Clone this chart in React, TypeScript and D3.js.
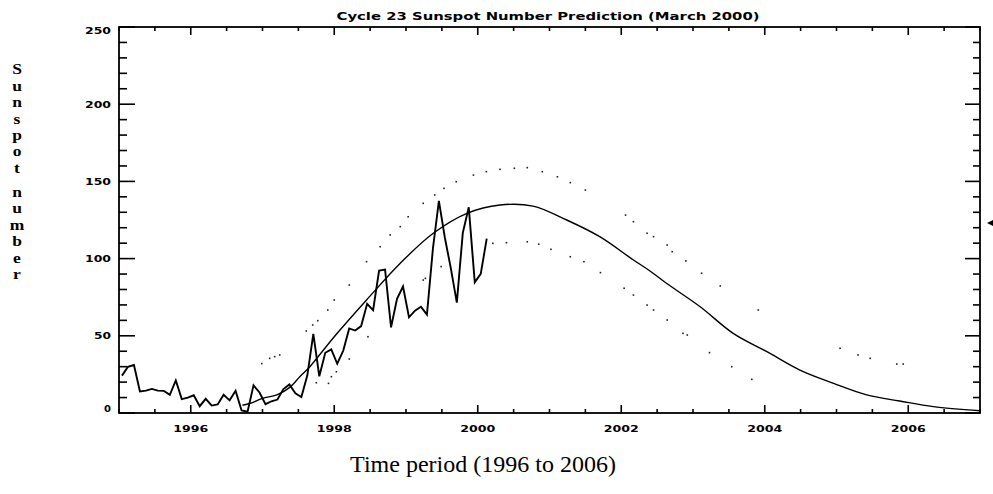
import React from 'react';
import * as d3 from 'd3';

const W = 993;
const H = 494;

// Observed monthly sunspot numbers, Jan 1995 .. Feb 2000
const observedStartYear = 1995;
const observedMonthly = [
  24.2, 29.9, 31.1, 14.0, 14.5, 15.6, 14.5, 14.3, 11.8, 21.1, 9.0, 10.0,
  11.5, 4.4, 9.2, 4.8, 5.5, 11.8, 8.2, 14.4, 1.6, 0.9, 17.9, 13.3,
  5.7, 7.6, 8.7, 15.5, 18.5, 12.7, 10.4, 24.4, 51.3, 23.8, 39.0, 41.2,
  31.9, 40.3, 54.8, 53.4, 56.3, 70.7, 66.6, 92.2, 92.9, 55.5, 74.0, 81.9,
  62.0, 66.3, 68.8, 63.7, 106.4, 137.4, 113.5, 93.7, 71.5, 116.7, 133.2, 84.6,
  90.1, 112.9,
];

// Predicted smooth curve
const predYears = [1996.72, 1996.83, 1997.0, 1997.2, 1997.38, 1997.52, 1997.66, 1998.0, 1998.45, 1998.92, 1999.38, 1999.85, 2000.31, 2000.77, 2001.24, 2001.7, 2002.17, 2002.4, 2002.63, 2003.1, 2003.56, 2004.03, 2004.49, 2004.96, 2005.42, 2005.88, 2006.35, 2007.0];
const predValues = [5, 6.3, 9.5, 11.7, 16.6, 23.5, 30, 49.4, 73.2, 97, 116.4, 129.3, 134.7, 134, 125, 114.2, 99.1, 92, 84, 68.8, 51.6, 39.7, 27.8, 19.2, 11.7, 7.8, 4.1, 1.5];

// Upper bound (dotted)
const upperYears = [1996.99, 1997.1, 1997.17, 1997.24, 1997.61, 1997.7, 1997.77, 1997.91, 1998.0, 1998.21, 1998.45, 1998.64, 1998.78, 1998.92, 1999.03, 1999.24, 1999.4, 1999.53, 1999.7, 1999.94, 2000.12, 2000.31, 2000.51, 2000.69, 2000.9, 2001.11, 2001.29, 2001.5, 2002.06, 2002.17, 2002.36, 2002.45, 2002.64, 2002.71, 2002.9, 2003.12, 2003.38, 2003.91, 2005.05, 2005.3, 2005.47, 2005.84, 2005.93];
const upperValues = [32, 35.4, 36.5, 37.6, 53.1, 57, 59.8, 66.7, 73.2, 82.9, 98, 107.7, 115.3, 120.7, 127.1, 135.8, 141.2, 145.5, 149.8, 154.1, 156.3, 157.8, 158.5, 158.9, 156.3, 153, 149.2, 144.4, 128.2, 123.9, 116.4, 114.2, 108.8, 104.5, 98.5, 90.5, 82.3, 66.7, 41.9, 37.6, 35.4, 31.7, 31.7];

// Lower bound (dotted)
const lowerYears = [1997.75, 1997.92, 1997.96, 1998.03, 1998.21, 1998.47, 1999.24, 1999.27, 1999.49, 2000.21, 2000.4, 2000.69, 2000.85, 2001.02, 2001.29, 2001.48, 2001.71, 2002.04, 2002.17, 2002.36, 2002.45, 2002.64, 2002.86, 2002.92, 2003.23, 2003.54, 2003.82];
const lowerValues = [19.6, 19.2, 23.5, 26.7, 35, 49.4, 86.1, 87.2, 94.8, 109.9, 110.3, 110.9, 109.3, 106, 101.2, 98, 90.9, 80.8, 76.4, 69.9, 66.7, 60.2, 51.6, 50.5, 39.1, 30, 21.8];

const xTickYears = [1996, 1998, 2000, 2002, 2004, 2006];
const yTickValues = [0, 50, 100, 150, 200, 250];
const titleText = 'Cycle 23 Sunspot Number Prediction (March 2000)';
const xTitle = 'Time period (1996 to 2006)';
const yTitleWords = ['Sunspot', 'number'];

const PL = 119, PR = 980, PT = 27, PB = 413;

export default function App() {
  const x = d3.scaleLinear().domain([1995, 2007]).range([PL, PR]);
  const y = d3.scaleLinear().domain([0, 250]).range([PB, PT]);

  const obsPts: [number, number][] = observedMonthly.map((v, i) => [observedStartYear + (i + 0.5) / 12, v]);
  const predPts: [number, number][] = predYears.map((t, i) => [t, predValues[i]]);

  const lineLin = d3.line<[number, number]>().x(d => x(d[0])).y(d => y(d[1]));
  const lineSmooth = d3.line<[number, number]>().x(d => x(d[0])).y(d => y(d[1])).curve(d3.curveCatmullRom.alpha(0.5));

  const xMinor = d3.range(1995, 2007.001, 0.5);
  const yMinor = d3.range(0, 250.001, 10);

  const tickFont = "'DejaVu Sans', Verdana, sans-serif";

  // y title: each letter its own text, stacked without overlapping boxes
  const fs = 14;
  const pitch = 16.4;
  const gap = 7.8;
  const top0 = 62;
  const letters: { ch: string; yb: number }[] = [];
  let k = 0;
  yTitleWords.forEach((w, wi) => {
    w.split('').forEach(ch => {
      const top = top0 + k * pitch + (wi > 0 ? gap : 0);
      letters.push({ ch, yb: top + fs * 0.89 });
      k++;
    });
  });

  return (
    <svg width={W} height={H} style={{ position: 'absolute', left: 0, top: 0, background: '#fff' }}>
      <rect x={0} y={0} width={W} height={H} fill="#fff" />
      {/* title */}
      <text x={548} y={19.5} textAnchor="middle" fontFamily={tickFont} fontWeight="bold" fontSize={10.5}
        textLength={423} lengthAdjust="spacingAndGlyphs">{titleText}</text>

      {/* frame */}
      <rect x={PL} y={PT} width={PR - PL} height={PB - PT} fill="none" stroke="#000" strokeWidth={1.8} />

      {/* x ticks */}
      {xMinor.map(t => {
        const major = Math.abs(t % 2) < 1e-6;
        const len = major ? 8 : 4;
        return (
          <g key={'xt' + t}>
            <line x1={x(t)} x2={x(t)} y1={PB} y2={PB - len} stroke="#000" strokeWidth={1.6} />
            <line x1={x(t)} x2={x(t)} y1={PT} y2={PT + len} stroke="#000" strokeWidth={1.6} />
          </g>
        );
      })}
      {/* y ticks */}
      {yMinor.map(v => {
        const major = v % 50 === 0;
        const lenL = major ? 16 : 8;
        const lenR = major ? 15 : 7;
        return (
          <g key={'yt' + v}>
            <line x1={PL} x2={PL + lenL} y1={y(v)} y2={y(v)} stroke="#000" strokeWidth={1.6} />
            <line x1={PR} x2={PR - lenR} y1={y(v)} y2={y(v)} stroke="#000" strokeWidth={1.6} />
          </g>
        );
      })}

      {/* x tick labels */}
      {xTickYears.map(t => (
        <text key={'xl' + t} x={x(t)} y={432} textAnchor="middle" fontFamily={tickFont} fontWeight="bold" fontSize={9}
          textLength={35} lengthAdjust="spacingAndGlyphs">{String(t)}</text>
      ))}
      {/* y tick labels */}
      {yTickValues.map(v => {
        const s = String(v);
        const yc = Math.min(Math.max(y(v), 31), 409);
        return (
          <text key={'yl' + v} x={111} y={yc + 3.3} textAnchor="end" fontFamily={tickFont} fontWeight="bold" fontSize={9}
            textLength={s.length > 1 ? s.length * 9 - 1 : 7} lengthAdjust="spacingAndGlyphs">{s}</text>
        );
      })}

      {/* bounds dots */}
      {upperYears.map((t, i) => (
        <rect key={'u' + i} x={x(t) - 0.8} y={y(upperValues[i]) - 0.8} width={1.6} height={1.6} fill="#222" />
      ))}
      {lowerYears.map((t, i) => (
        <rect key={'l' + i} x={x(t) - 0.8} y={y(lowerValues[i]) - 0.8} width={1.6} height={1.6} fill="#222" />
      ))}

      {/* prediction */}
      <path d={lineSmooth(predPts) || ''} fill="none" stroke="#000" strokeWidth={1.4} />
      {/* observed */}
      <path d={lineLin(obsPts) || ''} fill="none" stroke="#000" strokeWidth={1.9} strokeLinejoin="miter" />

      {/* right marker */}
      <path d="M987,223 L993,220 L993,226 Z" fill="#000" />

      {/* y title */}
      {letters.map((l, i) => (
        <text key={'ytl' + i} transform={`translate(17,${l.yb}) scale(1.25,1)`} x={0} y={0} textAnchor="middle"
          fontFamily="'Liberation Serif', 'Times New Roman', serif" fontWeight="bold" fontSize={fs}>{l.ch}</text>
      ))}

      {/* x title */}
      <text x={483} y={472} textAnchor="middle" fontFamily="'Liberation Serif', 'Times New Roman', serif" fontSize={24}>{xTitle}</text>
    </svg>
  );
}
